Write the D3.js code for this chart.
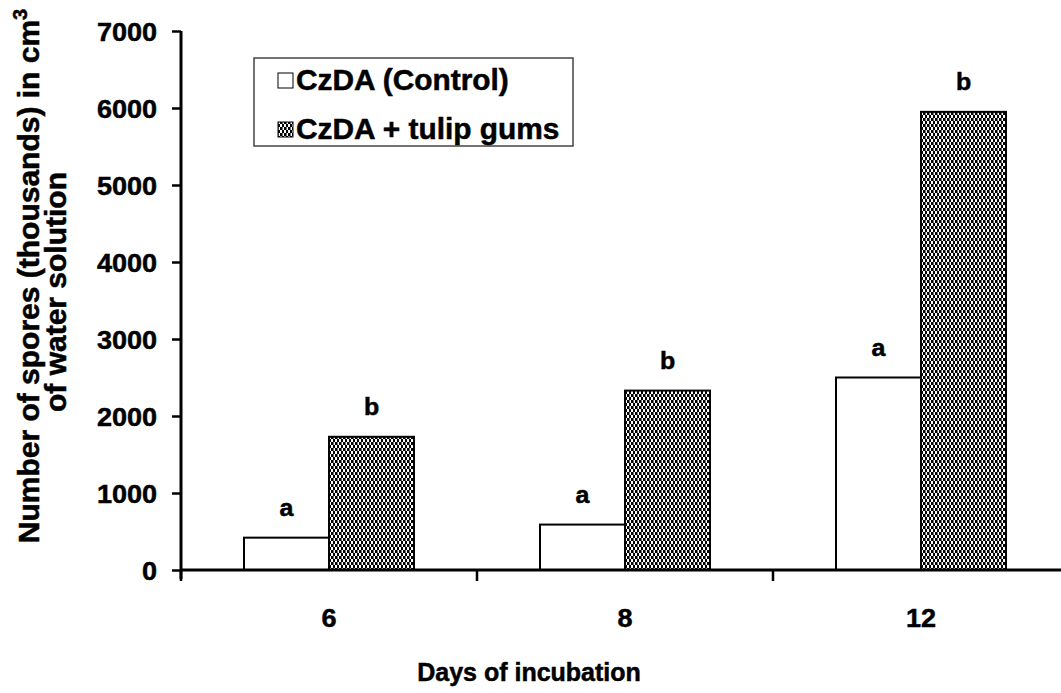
<!DOCTYPE html>
<html>
<head>
<meta charset="utf-8">
<script src="https://cdn.jsdelivr.net/npm/d3@7"></script>
<style>
  body { margin: 0; background: #fff; }
  text { font-family: "Liberation Sans", Arial, sans-serif; font-weight: bold; fill: #000; stroke: #000; stroke-width: 0.5px; }
</style>
</head>
<body>
<div id="chart"></div>
<script>
// data
var days = ["6", "8", "12"];
var control = [420, 590, 2500];
var tulip = [1730, 2330, 5950];
var controlLetters = ["a", "a", "a"];
var tulipLetters = ["b", "b", "b"];
var yTicks = [0, 1000, 2000, 3000, 4000, 5000, 6000, 7000];
var seriesNames = ["CzDA (Control)", "CzDA + tulip gums"];

var svgWidth = 1061;
var svgHeight = 693;
var margin = { top: 31, right: 0, bottom: 123, left: 181 };
var height = svgHeight - margin.top - margin.bottom;
var stretch = "scale(1.04,1)"; // the original text is a little wide

var svg = d3.select("#chart").append("svg")
    .attr("width", svgWidth)
    .attr("height", svgHeight);

// hatch pattern for the tulip gum bars
var defs = svg.append("defs");
var pat = defs.append("pattern")
    .attr("id", "hatch")
    .attr("patternUnits", "userSpaceOnUse")
    .attr("width", 4)
    .attr("height", 6);
pat.append("rect").attr("width", 4).attr("height", 6).attr("fill", "#fff");
pat.append("rect").attr("x", 0).attr("y", 0).attr("width", 2).attr("height", 3).attr("fill", "#000");
pat.append("rect").attr("x", 2).attr("y", 3).attr("width", 2).attr("height", 3).attr("fill", "#000");
pat.append("rect").attr("x", 0).attr("y", 3).attr("width", 1).attr("height", 3).attr("fill", "#777");

var chartGroup = svg.append("g")
    .attr("transform", `translate(${margin.left}, ${margin.top})`);

var xScale = d3.scaleBand()
    .domain(days)
    .range([0, 296 * 3]);

var yScale = d3.scaleLinear()
    .domain([0, 7000])
    .range([height, 0]);

var barW = 85;

// bars
chartGroup.selectAll(".ctrl")
    .data(days)
    .enter()
    .append("rect")
    .attr("class", "ctrl")
    .attr("x", d => xScale(d) + xScale.bandwidth() / 2 - barW)
    .attr("y", (d, i) => yScale(control[i]))
    .attr("width", barW)
    .attr("height", (d, i) => height - yScale(control[i]))
    .attr("fill", "#fff")
    .attr("stroke", "#000")
    .attr("stroke-width", 2);

chartGroup.selectAll(".tulip")
    .data(days)
    .enter()
    .append("rect")
    .attr("class", "tulip")
    .attr("x", d => xScale(d) + xScale.bandwidth() / 2)
    .attr("y", (d, i) => yScale(tulip[i]))
    .attr("width", barW)
    .attr("height", (d, i) => height - yScale(tulip[i]))
    .attr("fill", "url(#hatch)")
    .attr("stroke", "#000")
    .attr("stroke-width", 2);

// letters above bars
chartGroup.selectAll(".ctrlLetter")
    .data(days)
    .enter()
    .append("text")
    .attr("transform", (d, i) => `translate(${xScale(d) + xScale.bandwidth() / 2 - barW / 2}, ${yScale(control[i]) - 22}) ${stretch}`)
    .attr("text-anchor", "middle")
    .attr("font-size", 24)
    .text((d, i) => controlLetters[i]);

chartGroup.selectAll(".tulipLetter")
    .data(days)
    .enter()
    .append("text")
    .attr("transform", (d, i) => `translate(${xScale(d) + xScale.bandwidth() / 2 + barW / 2}, ${yScale(tulip[i]) - 22}) ${stretch}`)
    .attr("text-anchor", "middle")
    .attr("font-size", 24)
    .text((d, i) => tulipLetters[i]);

// y axis
var yAxis = d3.axisLeft(yScale).tickValues(yTicks).tickSize(9).tickPadding(14).tickFormat(d3.format("d"));
var yg = chartGroup.append("g").call(yAxis);
yg.select(".domain").attr("d", `M0,${height + 9}V0`).attr("stroke-width", 3);
yg.selectAll(".tick line").attr("stroke-width", 2.5);
yg.selectAll(".tick text")
    .attr("font-size", 26)
    .attr("transform", stretch)
    .style("font-family", "Liberation Sans, Arial, sans-serif")
    .style("font-weight", "bold")
    .attr("dy", "0.36em");

// x axis, ticks on category boundaries
var xg = chartGroup.append("g").attr("transform", `translate(0, ${height})`);
xg.append("line")
    .attr("x1", 0).attr("x2", xScale.range()[1])
    .attr("stroke", "#000").attr("stroke-width", 3);
xg.selectAll(".bound")
    .data(days.concat(["end"]))
    .enter()
    .append("line")
    .attr("x1", (d, i) => i * xScale.step())
    .attr("x2", (d, i) => i * xScale.step())
    .attr("y1", 0).attr("y2", 11)
    .attr("stroke", "#000").attr("stroke-width", 2.5);
xg.selectAll(".xlab")
    .data(days)
    .enter()
    .append("text")
    .attr("transform", d => `translate(${xScale(d) + xScale.bandwidth() / 2}, 57) ${stretch}`)
    .attr("text-anchor", "middle")
    .attr("font-size", 26)
    .text(d => d);

// axis titles
svg.append("text")
    .attr("transform", "translate(529, 681)")
    .attr("text-anchor", "middle")
    .attr("font-size", 25)
    .text("Days of incubation");

var yTitle = svg.append("text")
    .attr("transform", "translate(39, 276) rotate(-90)")
    .attr("text-anchor", "middle")
    .attr("font-size", 30);
yTitle.append("tspan").text("Number of spores (thousands) in cm");
yTitle.append("tspan").attr("dy", "-0.6em").attr("font-size", 20).text("3");

svg.append("text")
    .attr("transform", "translate(66, 292) rotate(-90)")
    .attr("text-anchor", "middle")
    .attr("font-size", 30)
    .text("of water solution");

// legend
var legend = svg.append("g").attr("transform", "translate(254, 58)");
legend.append("rect")
    .attr("width", 319).attr("height", 88)
    .attr("fill", "#fff").attr("stroke", "#444").attr("stroke-width", 1.5);
var fills = ["#fff", "url(#hatch)"];
seriesNames.forEach(function(name, i) {
    var y = 32 + i * 49;
    legend.append("rect")
        .attr("x", 24).attr("y", y - 17)
        .attr("width", 15).attr("height", 15)
        .attr("fill", fills[i]).attr("stroke", "#000").attr("stroke-width", 1);
    legend.append("text")
        .attr("transform", `translate(42, ${y}) scale(1.03,1)`)
        .attr("font-size", 29)
        .text(name);
});
</script>
</body>
</html>
